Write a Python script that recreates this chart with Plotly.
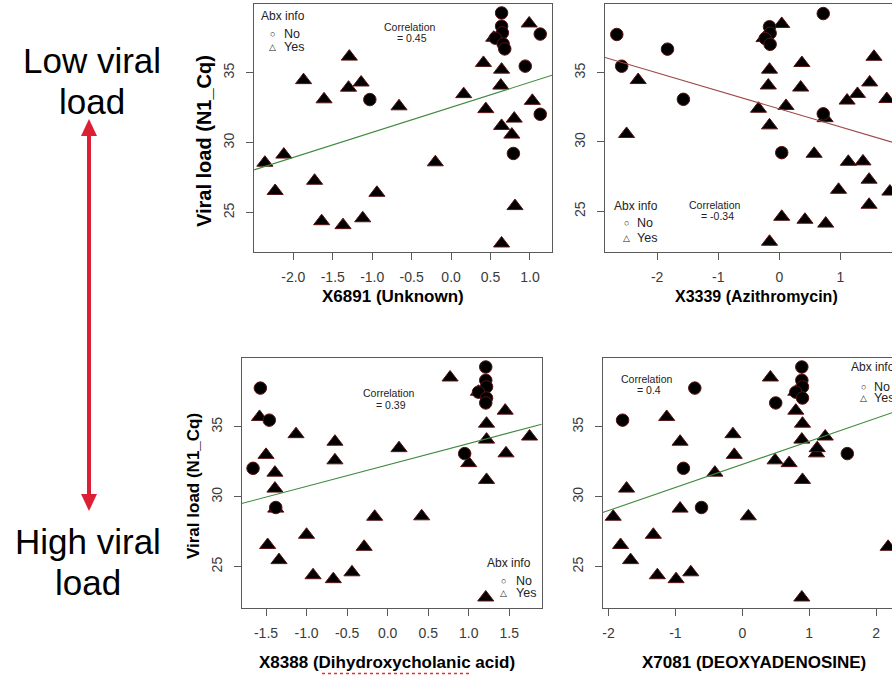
import numpy as np
import plotly.graph_objects as go

W, H = 892, 675

# ---------------- data (39 samples; 11 without antibiotics, 28 with) ----------------
viral_load = [39.27, 38.32, 37.85, 37.47, 37.05, 36.70, 37.76, 35.47, 33.08, 32.03, 29.23,
              28.57, 29.15, 26.55, 34.47, 33.10, 27.28, 24.39, 24.11, 36.15, 33.93, 34.30,
              24.60, 26.42, 32.60, 28.60, 33.47, 35.70, 32.40, 35.22, 34.08, 31.20, 30.58,
              25.47, 22.80, 38.52, 32.99, 31.72, 37.50]
abx_info = ["No", "No", "No", "No", "No", "No", "No", "No", "No", "No", "No",
            "Yes", "Yes", "Yes", "Yes", "Yes", "Yes", "Yes", "Yes", "Yes", "Yes", "Yes",
            "Yes", "Yes", "Yes", "Yes", "Yes", "Yes", "Yes", "Yes", "Yes", "Yes", "Yes",
            "Yes", "Yes", "Yes", "Yes", "Yes", "Yes"]

x6891 = [0.64, 0.64, 0.65, 0.56, 0.66, 0.68, 1.13, 0.94, -1.03, 1.13, 0.79,
         -2.36, -2.12, -2.23, -1.87, -1.61, -1.73, -1.64, -1.37, -1.29, -1.30, -1.14,
         -1.12, -0.94, -0.66, -0.20, 0.16, 0.41, 0.44, 0.64, 0.63, 0.64, 0.77,
         0.81, 0.64, 0.99, 1.03, 0.80, 0.54]
x3339 = [0.72, -0.16, -0.15, -0.23, -0.15, -1.83, -2.66, -2.58, -1.57, 0.72, 0.04,
         1.13, 0.57, 0.97, -2.31, 1.76, 1.47, 0.42, 0.76, 1.55, 0.35, 1.48,
         0.04, 1.81, 0.11, 1.37, 1.28, 0.37, -0.34, -0.16, -0.18, -0.16, -2.50,
         1.47, -0.16, 0.04, 1.11, 0.75, -0.25]
x8388 = [1.21, 1.21, 1.22, 1.12, 1.22, 1.21, -1.57, -1.46, 0.95, -1.66, -1.38,
         -0.16, -1.38, -1.48, -1.13, 1.46, -1.00, -0.92, -0.67, 1.45, -0.65, 1.75,
         -0.44, -0.29, -0.65, 0.42, 0.14, -1.58, 1.00, 1.22, 1.22, 1.22, -1.39,
         -1.34, 1.21, 0.77, -1.50, -1.39, 1.12]
x7081 = [0.89, 0.89, 0.90, 0.80, 0.90, 0.50, -0.71, -1.79, 1.57, -0.88, -0.61,
         -1.93, -0.93, -1.82, -0.14, 1.11, -1.33, -1.27, -0.99, 0.80, -0.93, 1.24,
         -0.77, 2.18, 0.49, 0.09, 1.12, -1.13, 0.70, 0.90, 0.89, 0.90, -1.73,
         -1.67, 0.89, 0.42, -0.12, -0.41, 0.80]

# fitted lines as drawn in each panel
fit_intercepts = [32.53, 32.39, 32.27, 32.31]
fit_slopes = [1.79, -1.30, 1.53, 1.65]

x_titles = ["X6891 (Unknown)", "X3339 (Azithromycin)",
            "X8388 (Dihydroxycholanic acid)", "X7081 (DEOXYADENOSINE)"]
correlations = ["0.45", "-0.34", "0.39", "0.4"]

x_tickvals_1 = [-2.0, -1.5, -1.0, -0.5, 0.0, 0.5, 1.0]
x_ticktext_1 = ["-2.0", "-1.5", "-1.0", "-0.5", "0.0", "0.5", "1.0"]
x_tickvals_2 = [-2, -1, 0, 1]
x_ticktext_2 = ["-2", "-1", "0", "1"]
x_tickvals_3 = [-1.5, -1.0, -0.5, 0.0, 0.5, 1.0, 1.5]
x_ticktext_3 = ["-1.5", "-1.0", "-0.5", "0.0", "0.5", "1.0", "1.5"]
x_tickvals_4 = [-2, -1, 0, 1, 2]
x_ticktext_4 = ["-2", "-1", "0", "1", "2"]
y_tickvals = [25, 30, 35]
y_ticktext = ["25", "30", "35"]

# ---------------- layout helpers ----------------
def px(x):
    return x / W


def py(y):
    return 1 - y / H


FONT = "Liberation Sans, Arial, sans-serif"
TICKC = "#3a3a3a"
FRAMEC = "#5a5a5a"

panels = [
    dict(x=x6891, box=(254, 552, 4, 252), xr=(-2.498, 1.279), yr=(22.19, 39.91),
         tv=x_tickvals_1, tt=x_ticktext_1, line="#3f8a3f", mirror_y=True),
    dict(x=x3339, box=(605, 892, 4, 252), xr=(-2.853, 1.845), yr=(22.06, 39.96),
         tv=x_tickvals_2, tt=x_ticktext_2, line="#a04848", mirror_y=False),
    dict(x=x8388, box=(241.7, 541.7, 358.3, 607.7), xr=(-1.80, 1.90), yr=(22.07, 39.89),
         tv=x_tickvals_3, tt=x_ticktext_3, line="#3f8a3f", mirror_y=True),
    dict(x=x7081, box=(602.7, 892, 358.3, 607.7), xr=(-2.087, 2.238), yr=(22.07, 39.89),
         tv=x_tickvals_4, tt=x_ticktext_4, line="#3f8a3f", mirror_y=False),
]

fig = go.Figure()
yv = np.array(viral_load)
is_no = np.array([a == "No" for a in abx_info])

for i, p in enumerate(panels, start=1):
    xs = np.array(p["x"])
    xa = "x" if i == 1 else f"x{i}"
    ya = "y" if i == 1 else f"y{i}"
    # triangles (Yes) first, then circles (No) on top
    fig.add_trace(go.Scatter(
        x=xs[~is_no], y=yv[~is_no], mode="markers", xaxis=xa, yaxis=ya,
        marker=dict(symbol="triangle-up", size=14, color="black",
                    line=dict(color="#5a1414", width=1)),
        showlegend=False, hoverinfo="x+y"))
    fig.add_trace(go.Scatter(
        x=xs[is_no], y=yv[is_no], mode="markers", xaxis=xa, yaxis=ya,
        marker=dict(symbol="circle", size=12.5, color="black",
                    line=dict(color="#5a1414", width=1)),
        showlegend=False, hoverinfo="x+y"))
    # fitted line across the full plotting region
    b0, b1 = fit_intercepts[i - 1], fit_slopes[i - 1]
    lx = np.array(p["xr"])
    fig.add_trace(go.Scatter(
        x=lx, y=b0 + b1 * lx, mode="lines", xaxis=xa, yaxis=ya,
        line=dict(color=p["line"], width=1.1), showlegend=False, hoverinfo="skip"))

    x0, x1, y0, y1 = p["box"]
    xkey = "xaxis" if i == 1 else f"xaxis{i}"
    ykey = "yaxis" if i == 1 else f"yaxis{i}"
    fig.layout[xkey] = dict(
        domain=[px(x0), min(px(x1), 1.0)], range=list(p["xr"]), anchor=ya,
        tickvals=p["tv"], ticktext=p["tt"], ticks="outside", ticklen=7,
        tickcolor=FRAMEC, tickwidth=1, showline=True, linecolor=FRAMEC, linewidth=1,
        mirror=True, showgrid=False, zeroline=False, ticklabelstandoff=5,
        tickfont=dict(family=FONT, size=14, color=TICKC), fixedrange=True)
    fig.layout[ykey] = dict(
        domain=[py(y1), py(y0)], range=list(p["yr"]), anchor=xa,
        tickvals=y_tickvals, ticktext=y_ticktext, ticks="outside", ticklen=7,
        tickcolor=FRAMEC, tickwidth=1, showline=True, linecolor=FRAMEC, linewidth=1,
        mirror=p["mirror_y"], showgrid=False, zeroline=False, tickangle=-90,
        ticklabelstandoff=6,
        tickfont=dict(family=FONT, size=14, color=TICKC), fixedrange=True)

annotations = []


def ann(text, x, y, size, xanchor="center", color="black", angle=0, bold=False):
    annotations.append(dict(
        text=f"<b>{text}</b>" if bold else text, x=px(x), y=py(y),
        xref="paper", yref="paper", showarrow=False, xanchor=xanchor, yanchor="middle",
        textangle=angle, borderpad=0,
        font=dict(family=FONT, size=size, color=color)))


# axis titles
ann(x_titles[0], 393, 297, 17, bold=True)
ann(x_titles[1], 756, 297, 16, bold=True)
ann(x_titles[2], 387, 662, 17, bold=True)
ann(x_titles[3], 754, 662, 17, bold=True)
ann("Viral load (N1_Cq)", 204, 141, 20, angle=-90, bold=True)
ann("Viral load (N1_Cq)", 193, 486, 17, angle=-90, bold=True)

# correlation labels
corr_pos = [(410, 26.7, 38), (715, 205, 215.5), (389, 393, 405), (647, 379, 390)]
for c, (cx, cy1, cy2) in zip(correlations, corr_pos):
    ann("Correlation", cx, cy1, 10.5, color="#222")
    ann("= " + c, cx + 2, cy2, 10.5, color="#222")

# Abx info legends
legend_pos = [  # (title x, title y, title anchor, symbol x, text x, row1 y, row2 y)
    (260, 15.7, "left", 272, 283, 34, 47),
    (612.7, 205.7, "left", 626, 636, 223, 238),
    (531.7, 562.7, "right", 503, 515, 580.7, 592.7),
    (850, 367, "left", 863, 873, 386.7, 398.3),
]
for tx, ty, tanch, sx, lx_, r1, r2 in legend_pos:
    ann("Abx info", tx, ty, 12, xanchor=tanch, color="#222")
    ann("○", sx, r1, 9, color="#222")
    ann("△", sx, r2, 9, color="#222")
    ann("No", lx_, r1, 12.5, xanchor="left", color="#222")
    ann("Yes", lx_, r2, 12.5, xanchor="left", color="#222")

# left side explanatory text
ann("Low viral", 92, 60, 35)
ann("load", 92, 101, 35)
ann("High viral", 88, 541, 35)
ann("load", 88, 582, 35)

RED = "#dc1f34"
shapes = [
    dict(type="line", xref="paper", yref="paper", x0=px(89), x1=px(89), y0=py(132), y1=py(498),
         line=dict(color=RED, width=4)),
    dict(type="path", xref="paper", yref="paper",
         path=f"M{px(81)},{py(136)} L{px(89)},{py(119)} L{px(97)},{py(136)} Z",
         fillcolor=RED, line=dict(color=RED, width=0)),
    dict(type="path", xref="paper", yref="paper",
         path=f"M{px(81)},{py(494)} L{px(89)},{py(511)} L{px(97)},{py(494)} Z",
         fillcolor=RED, line=dict(color=RED, width=0)),
    # spell-check squiggle under "Dihydroxycholanic"
    dict(type="line", xref="paper", yref="paper", x0=px(322), x1=px(472), y0=py(673.5), y1=py(673.5),
         line=dict(color="#e03030", width=1.5, dash="dot")),
]

fig.update_layout(
    width=W, height=H, autosize=False, margin=dict(l=0, r=0, t=0, b=0),
    paper_bgcolor="white", plot_bgcolor="white", showlegend=False,
    annotations=annotations, shapes=shapes,
    font=dict(family=FONT),
)

fig.write_html("out.html")
